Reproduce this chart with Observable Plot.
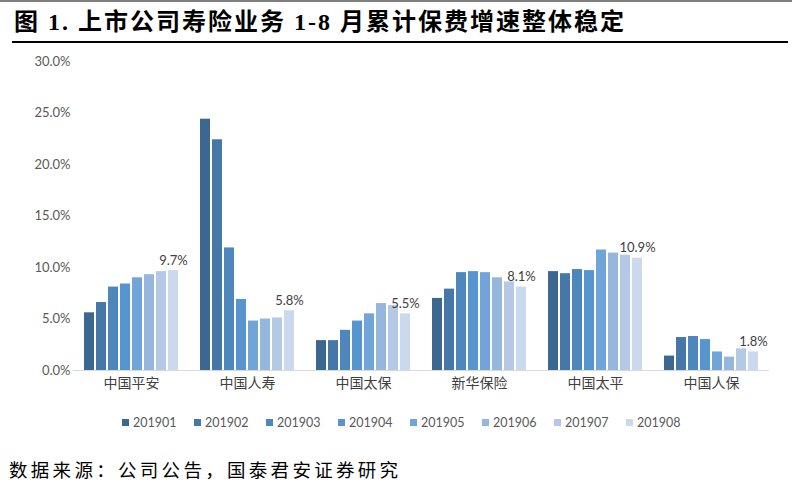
<!DOCTYPE html>
<html>
<head>
<meta charset="utf-8">
<script src="https://cdn.jsdelivr.net/npm/d3@7"></script>
<script src="https://cdn.jsdelivr.net/npm/@observablehq/plot@0.6"></script>
<style>
  html, body { margin: 0; padding: 0; background: #fff; }
  #wrap { position: relative; width: 799px; height: 489px; overflow: hidden; background: #fff; }
  #topline { position: absolute; left: 0; top: 0; width: 792px; height: 2px; background: #7f7f7f; }
  #title { position: absolute; left: 14px; top: 6px; font-family: "Liberation Serif", "Noto Sans CJK SC", serif; font-weight: bold; font-size: 24px; letter-spacing: 2px; color: #000; white-space: nowrap; line-height: 32px; }
  #underline { position: absolute; left: 12px; top: 41px; width: 776px; height: 2px; background: #000; }
  #chart { position: absolute; left: 0; top: 46px; }
  #legend { position: absolute; left: 122px; top: 415px; display: flex; font-family: Lato, "Noto Sans CJK SC", sans-serif; font-size: 12.5px; color: #595959; }
  .item { width: 72px; display: flex; align-items: center; }
  .sw { width: 7px; height: 7px; margin-right: 4px; }
  #caption { position: absolute; left: 9px; top: 456px; font-family: "Liberation Serif", "Noto Sans CJK SC", serif; font-size: 18.5px; letter-spacing: 3.3px; color: #000; white-space: nowrap; }
  #chart svg [aria-label="fx-axis tick label"] text, #chart svg g[aria-label="fx-axis"] text { font-size: 14px; fill: #404040; font-family: "Noto Sans CJK SC", sans-serif; }
</style>
</head>
<body>
<div id="wrap">
  <div id="topline"></div>
  <div id="title">图 1. 上市公司寿险业务 1-8 月累计保费增速整体稳定</div>
  <div id="underline"></div>
  <div id="chart"></div>
  <div id="legend"></div>
  <div id="caption">数据来源：公司公告，国泰君安证券研究</div>
</div>
<script>
const categories = ["中国平安", "中国人寿", "中国太保", "新华保险", "中国太平", "中国人保"];
const months = ["201901", "201902", "201903", "201904", "201905", "201906", "201907", "201908"];
const pingan   = [5.6, 6.6, 8.1, 8.4, 9.0, 9.3, 9.6, 9.7];
const renshou  = [24.4, 22.4, 11.9, 6.9, 4.8, 5.0, 5.1, 5.8];
const taibao   = [2.9, 2.9, 3.9, 4.8, 5.5, 6.5, 6.3, 5.5];
const xinhua   = [7.0, 7.9, 9.5, 9.6, 9.5, 9.0, 8.6, 8.1];
const taiping  = [9.6, 9.4, 9.8, 9.7, 11.7, 11.4, 11.2, 10.9];
const renbao   = [1.4, 3.2, 3.3, 3.0, 1.8, 1.3, 2.1, 1.8];
const yTicks = [0, 5, 10, 15, 20, 25, 30];
const colors = ["#3b6791", "#4577a8", "#4d87bc", "#5795cf", "#71a5d9", "#95b7de", "#b3c9e6", "#cad9ee"];

const series = [pingan, renshou, taibao, xinhua, taiping, renbao];
const data = categories.flatMap((c, i) => months.map((m, j) => ({company: c, month: m, value: series[i][j]})));
const lastMonth = months[months.length - 1];

const chart = Plot.plot({
  width: 799,
  height: 354,
  marginTop: 15,
  marginBottom: 30,
  marginLeft: 73,
  marginRight: 29,
  style: {fontFamily: "Lato, 'Noto Sans CJK SC', sans-serif", fontSize: "13px", color: "#595959", background: "transparent"},
  fx: {domain: categories, paddingInner: 0.17, paddingOuter: 0.085, label: null, tickSize: 0, tickPadding: 8},
  x: {domain: months, axis: null, paddingInner: 0.17, paddingOuter: 0.085},
  y: {domain: [0, 30], ticks: yTicks, tickFormat: d => d.toFixed(1) + "%", label: null, tickSize: 0, tickPadding: 13},
  color: {domain: months, range: colors},
  marks: [
    Plot.barY(data, {fx: "company", x: "month", y: "value", fill: "month"}),
    Plot.ruleY([0], {stroke: "#d9d9d9", strokeWidth: 1, insetLeft: -10, insetRight: -10}),
    Plot.text(data.filter(d => d.month === lastMonth), {fx: "company", x: "month", y: "value", text: d => d.value.toFixed(1) + "%", dy: -10, fill: "#404040", fontSize: 13})
  ]
});
document.getElementById("chart").appendChild(chart);

const legend = document.getElementById("legend");
months.forEach((m, i) => {
  const item = document.createElement("div");
  item.className = "item";
  const sw = document.createElement("span");
  sw.className = "sw";
  sw.style.background = colors[i];
  const t = document.createElement("span");
  t.textContent = m;
  item.appendChild(sw);
  item.appendChild(t);
  legend.appendChild(item);
});
</script>
</body>
</html>
